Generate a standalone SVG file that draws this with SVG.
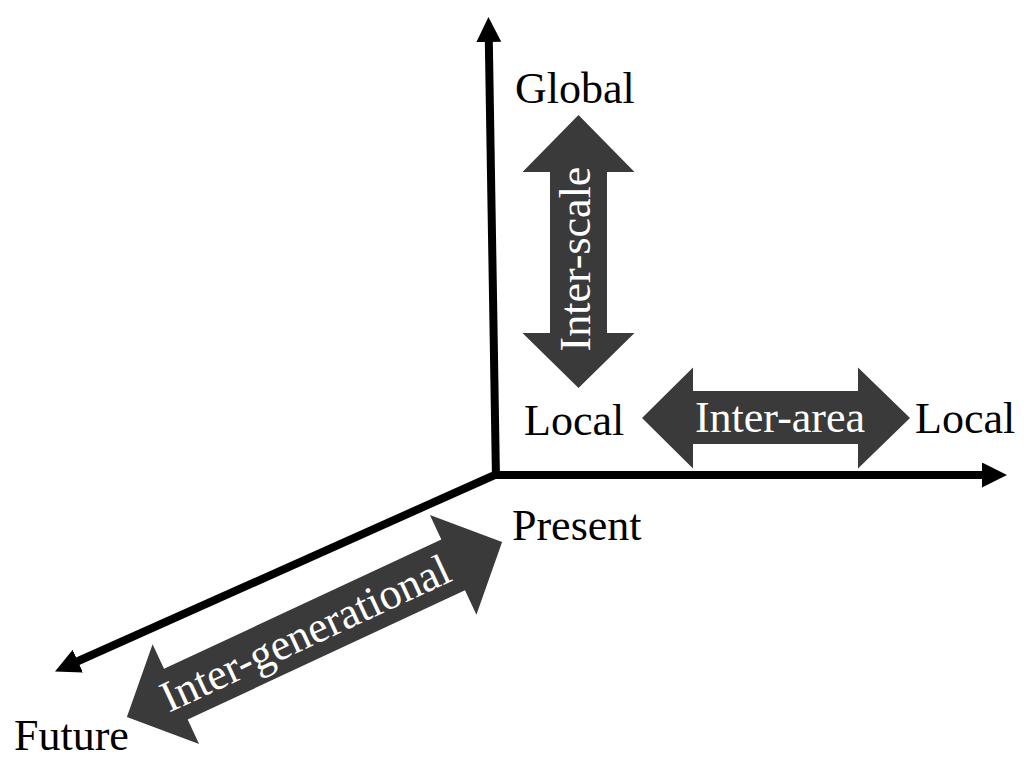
<svg xmlns="http://www.w3.org/2000/svg" width="1024" height="762" viewBox="0 0 1024 762">
<defs>
<style>
.lbl{font-family:"Liberation Serif","Times New Roman",serif;font-size:44px;fill:#000}
.inlbl{font-family:"Liberation Serif","Times New Roman",serif;font-size:44px;fill:#fff;text-anchor:middle}
.axis{stroke:#000;stroke-width:8;fill:none}
.big{fill:#3a3a3a}
</style>
<marker id="ah" markerUnits="userSpaceOnUse" markerWidth="25" markerHeight="25" viewBox="0 0 25 25" refX="2" refY="12.5" orient="auto">
<path d="M0,0 L25,12.5 L0,25 Z" fill="#000"/>
</marker>
</defs>
<g id="connectors">
<line class="axis" x1="496" y1="479" x2="488.8" y2="40" marker-end="url(#ah)"/>
<line class="axis" x1="492" y1="475" x2="984" y2="475" marker-end="url(#ah)"/>
<line class="axis" x1="497" y1="474" x2="76" y2="662" marker-end="url(#ah)"/>
</g>
<g id="inter-scale">
<path class="big" d="M578.5,115 L634.5,172 L607,172 L607,333 L634.5,333 L578.5,388 L522.5,333 L550,333 L550,172 L522.5,172 Z"/>
<text class="inlbl" transform="translate(590,259) rotate(-90)" x="0" y="0">Inter-scale</text>
</g>
<g id="inter-area">
<path class="big" d="M642,418 L693,367.5 L693,391 L858,391 L858,367.5 L910,418 L858,468.5 L858,444 L693,444 L693,468.5 Z"/>
<text class="inlbl" x="780" y="432">Inter-area</text>
</g>
<g id="inter-generational">
<g transform="translate(314.5,629.5) rotate(-25)">
<path class="big" d="M-207,0 L-153,-55 L-153,-28 L153,-28 L153,-55 L207,0 L153,55 L153,28 L-153,28 L-153,55 Z"/>
<text class="inlbl" x="-10" y="14">Inter-generational</text>
</g>
</g>
<g id="label-global"><text class="lbl" x="515" y="103">Global</text></g>
<g id="label-local-left"><text class="lbl" x="524" y="435">Local</text></g>
<g id="label-local-right"><text class="lbl" x="915" y="433">Local</text></g>
<g id="label-present"><text class="lbl" x="512" y="540">Present</text></g>
<g id="label-future"><text class="lbl" x="14" y="750">Future</text></g>
</svg>
